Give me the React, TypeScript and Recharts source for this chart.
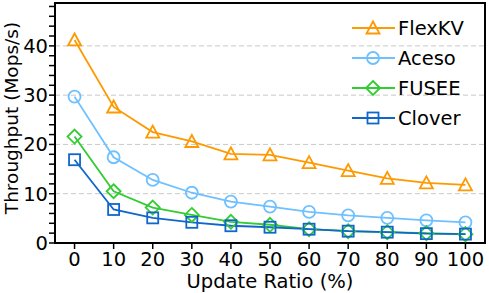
import { LineChart, Line, XAxis, YAxis, ReferenceLine, ReferenceArea } from 'recharts';

const ratios = [0, 10, 20, 30, 40, 50, 60, 70, 80, 90, 100];
const flexkv = [41.2, 27.6, 22.5, 20.6, 18.1, 17.9, 16.3, 14.7, 13.1, 12.2, 11.8];
const aceso = [29.7, 17.4, 12.8, 10.2, 8.4, 7.4, 6.3, 5.6, 5.1, 4.6, 4.2];
const fusee = [21.6, 10.5, 7.2, 5.7, 4.3, 3.7, 2.8, 2.4, 2.2, 2.0, 1.8];
const clover = [16.9, 6.8, 5.1, 4.2, 3.5, 3.2, 2.8, 2.4, 2.2, 1.9, 1.8];

const yTicks = [0, 2, 4, 6, 8, 10, 12, 14, 16, 18, 20, 22, 24, 26, 28, 30, 32, 34, 36, 38, 40, 42, 44, 46, 48];
const gridValues = [10, 20, 30, 40];

const data = ratios.map((r, i) => ({
    ratio: r,
    FlexKV: flexkv[i],
    Aceso: aceso[i],
    FUSEE: fusee[i],
    Clover: clover[i],
}));

const FONT = '"DejaVu Sans", sans-serif';
const FS = 19.5;

type Shape = 'triangle' | 'circle' | 'diamond' | 'square';

const series: { key: string; color: string; shape: Shape }[] = [
    { key: 'FlexKV', color: '#FF9900', shape: 'triangle' },
    { key: 'Aceso', color: '#6EC0FF', shape: 'circle' },
    { key: 'FUSEE', color: '#33CC33', shape: 'diamond' },
    { key: 'Clover', color: '#1166CC', shape: 'square' },
];

const Marker = ({ cx, cy, color, shape }: { cx: number; cy: number; color: string; shape: Shape }) => {
    const sw = 1.8;
    if (shape === 'triangle') {
        return <polygon points={`${cx},${cy - 6.5} ${cx - 6.5},${cy + 5.5} ${cx + 6.5},${cy + 5.5}`} fill="none" stroke={color} strokeWidth={sw} />;
    }
    if (shape === 'circle') {
        return <circle cx={cx} cy={cy} r={6} fill="none" stroke={color} strokeWidth={sw} />;
    }
    if (shape === 'diamond') {
        return <polygon points={`${cx},${cy - 7} ${cx + 7},${cy} ${cx},${cy + 7} ${cx - 7},${cy}`} fill="none" stroke={color} strokeWidth={sw} />;
    }
    return <rect x={cx - 5.5} y={cy - 5.5} width={11} height={11} fill="none" stroke={color} strokeWidth={sw} />;
};

const LegendBox = () => (
    <svg width={135} height={120} style={{ position: 'absolute', left: 350, top: 14 }}>
        {series.map((s, i) => {
            const y = 14 + i * 30;
            return (
                <g key={s.key}>
                    <line x1={2} x2={45} y1={y} y2={y} stroke={s.color} strokeWidth={1.8} />
                    <Marker cx={23} cy={y} color={s.color} shape={s.shape} />
                    <text x={48} y={y + 7} fontSize={FS} fontFamily={FONT} fill="#000">{s.key}</text>
                </g>
            );
        })}
    </svg>
);

const YLabel = ({ viewBox }: any) => {
    const cy = viewBox.y + viewBox.height / 2 - 5;
    return (
        <text
            x={11}
            y={cy}
            transform={`rotate(-90, 11, ${cy})`}
            textAnchor="middle"
            dominantBaseline="central"
            fontSize={18.5}
            fontFamily={FONT}
            fill="#000"
        >
            Throughput (Mops/s)
        </text>
    );
};

export default function App() {
    return (
        <div style={{ position: 'absolute', left: 0, top: 0, width: 489, height: 293 }}>
            <LineChart width={489} height={293} data={data} margin={{ top: 3, right: 4, bottom: 0, left: 0 }}>
                {gridValues.map((v) => (
                    <ReferenceLine key={v} y={v} stroke="#c8c8c8" strokeDasharray="5 3" strokeWidth={1} />
                ))}
                <XAxis
                    dataKey="ratio"
                    type="number"
                    domain={[-5, 105]}
                    ticks={ratios}
                    interval={0}
                    height={50}
                    tickSize={6}
                    tickMargin={3}
                    axisLine={{ stroke: '#000', strokeWidth: 2 }}
                    tickLine={{ stroke: '#000', strokeWidth: 1.5 }}
                    tick={{ fill: '#000', fontSize: FS, fontFamily: FONT }}
                    label={{ value: 'Update Ratio (%)', position: 'insideBottom', offset: 5, fill: '#000', fontSize: FS, fontFamily: FONT }}
                />
                <YAxis
                    type="number"
                    domain={[0, 48.7]}
                    ticks={yTicks}
                    interval={0}
                    width={55}
                    tickSize={6}
                    tickMargin={1}
                    tickFormatter={(v: number) => (v % 10 === 0 ? String(v) : '')}
                    axisLine={{ stroke: '#000', strokeWidth: 2 }}
                    tickLine={{ stroke: '#000', strokeWidth: 1.5 }}
                    tick={{ fill: '#000', fontSize: FS, fontFamily: FONT }}
                    label={{ content: YLabel }}
                />
                <ReferenceArea x1={-5} x2={105} y1={0} y2={48.7} fill="none" stroke="#000" strokeWidth={2} />
                {series.map((s) => (
                    <Line
                        key={s.key}
                        dataKey={s.key}
                        stroke={s.color}
                        strokeWidth={1.8}
                        isAnimationActive={false}
                        dot={(p: any) => <Marker key={`${s.key}-${p.index}`} cx={p.cx} cy={p.cy} color={s.color} shape={s.shape} />}
                        activeDot={false}
                    />
                ))}
            </LineChart>
            <LegendBox />
        </div>
    );
}
